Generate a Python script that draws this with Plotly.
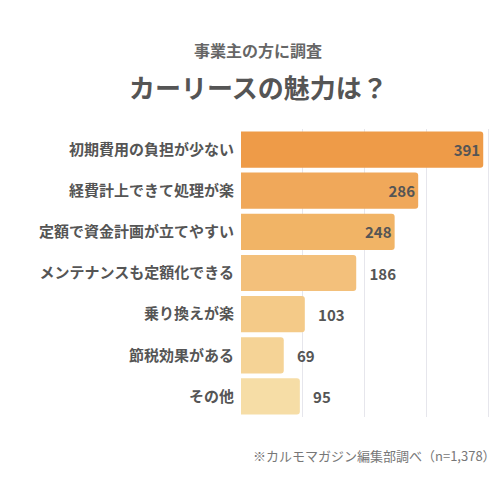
import plotly.graph_objects as go

items = ["初期費用の負担が少ない", "経費計上できて処理が楽", "定額で資金計画が立てやすい",
         "メンテナンスも定額化できる", "乗り換えが楽", "節税効果がある", "その他"]
counts = [391, 286, 248, 186, 103, 69, 95]
colors = ["#EE9B48", "#F0A85A", "#F1B466", "#F3C07B", "#F4CA88", "#F5D396", "#F6DDA6"]

positions = ["inside" if c > 200 else "outside" for c in counts]
labels = [str(c) if c > 200 else "   " + str(c) for c in counts]

W, H, L, R, T, B = 500, 484, 233, 13, 121, 75


def px(x):
    return (x - L) / (W - L - R)


def py(y):
    return 1 - (y - T) / (H - T - B)


fig = go.Figure(go.Bar(
    x=counts, y=items, orientation="h",
    marker=dict(color=colors, line=dict(width=0), cornerradius=3),
    text=labels, textposition=positions, insidetextanchor="end",
    textfont=dict(size=15, color="#555555", family="Noto Sans CJK JP", weight="bold"),
    cliponaxis=False,
))

fig.update_layout(
    width=W, height=H, plot_bgcolor="white", paper_bgcolor="white",
    margin=dict(l=L, r=R, t=T, b=B),
    bargap=0.12, showlegend=False,
    font=dict(family="Noto Sans CJK JP", color="#555555"),
    xaxis=dict(range=[0, 410], dtick=100, showticklabels=False,
               gridcolor="#E6E6EC", gridwidth=1, zeroline=False),
    yaxis=dict(autorange="reversed", tickfont=dict(size=15, color="#555555", weight="bold"),
               ticks="", ticklabelstandoff=6),
    annotations=[
        dict(text="事業主の方に調査", x=px(250), y=py(42), xref="paper", yref="paper",
             xanchor="center", yanchor="middle", showarrow=False,
             font=dict(size=16, color="#666666", weight="bold")),
        dict(text="<b>カーリースの魅力は？</b>", x=px(250), y=py(78), xref="paper", yref="paper",
             xanchor="center", yanchor="middle", showarrow=False,
             font=dict(size=26, color="#555555")),
        dict(text="※カルモマガジン編集部調べ（n=1,378）", x=px(490), y=py(447),
             xref="paper", yref="paper", xanchor="right", yanchor="middle",
             showarrow=False, font=dict(size=13, color="#777777")),
    ],
)

fig.write_html("out.html")
